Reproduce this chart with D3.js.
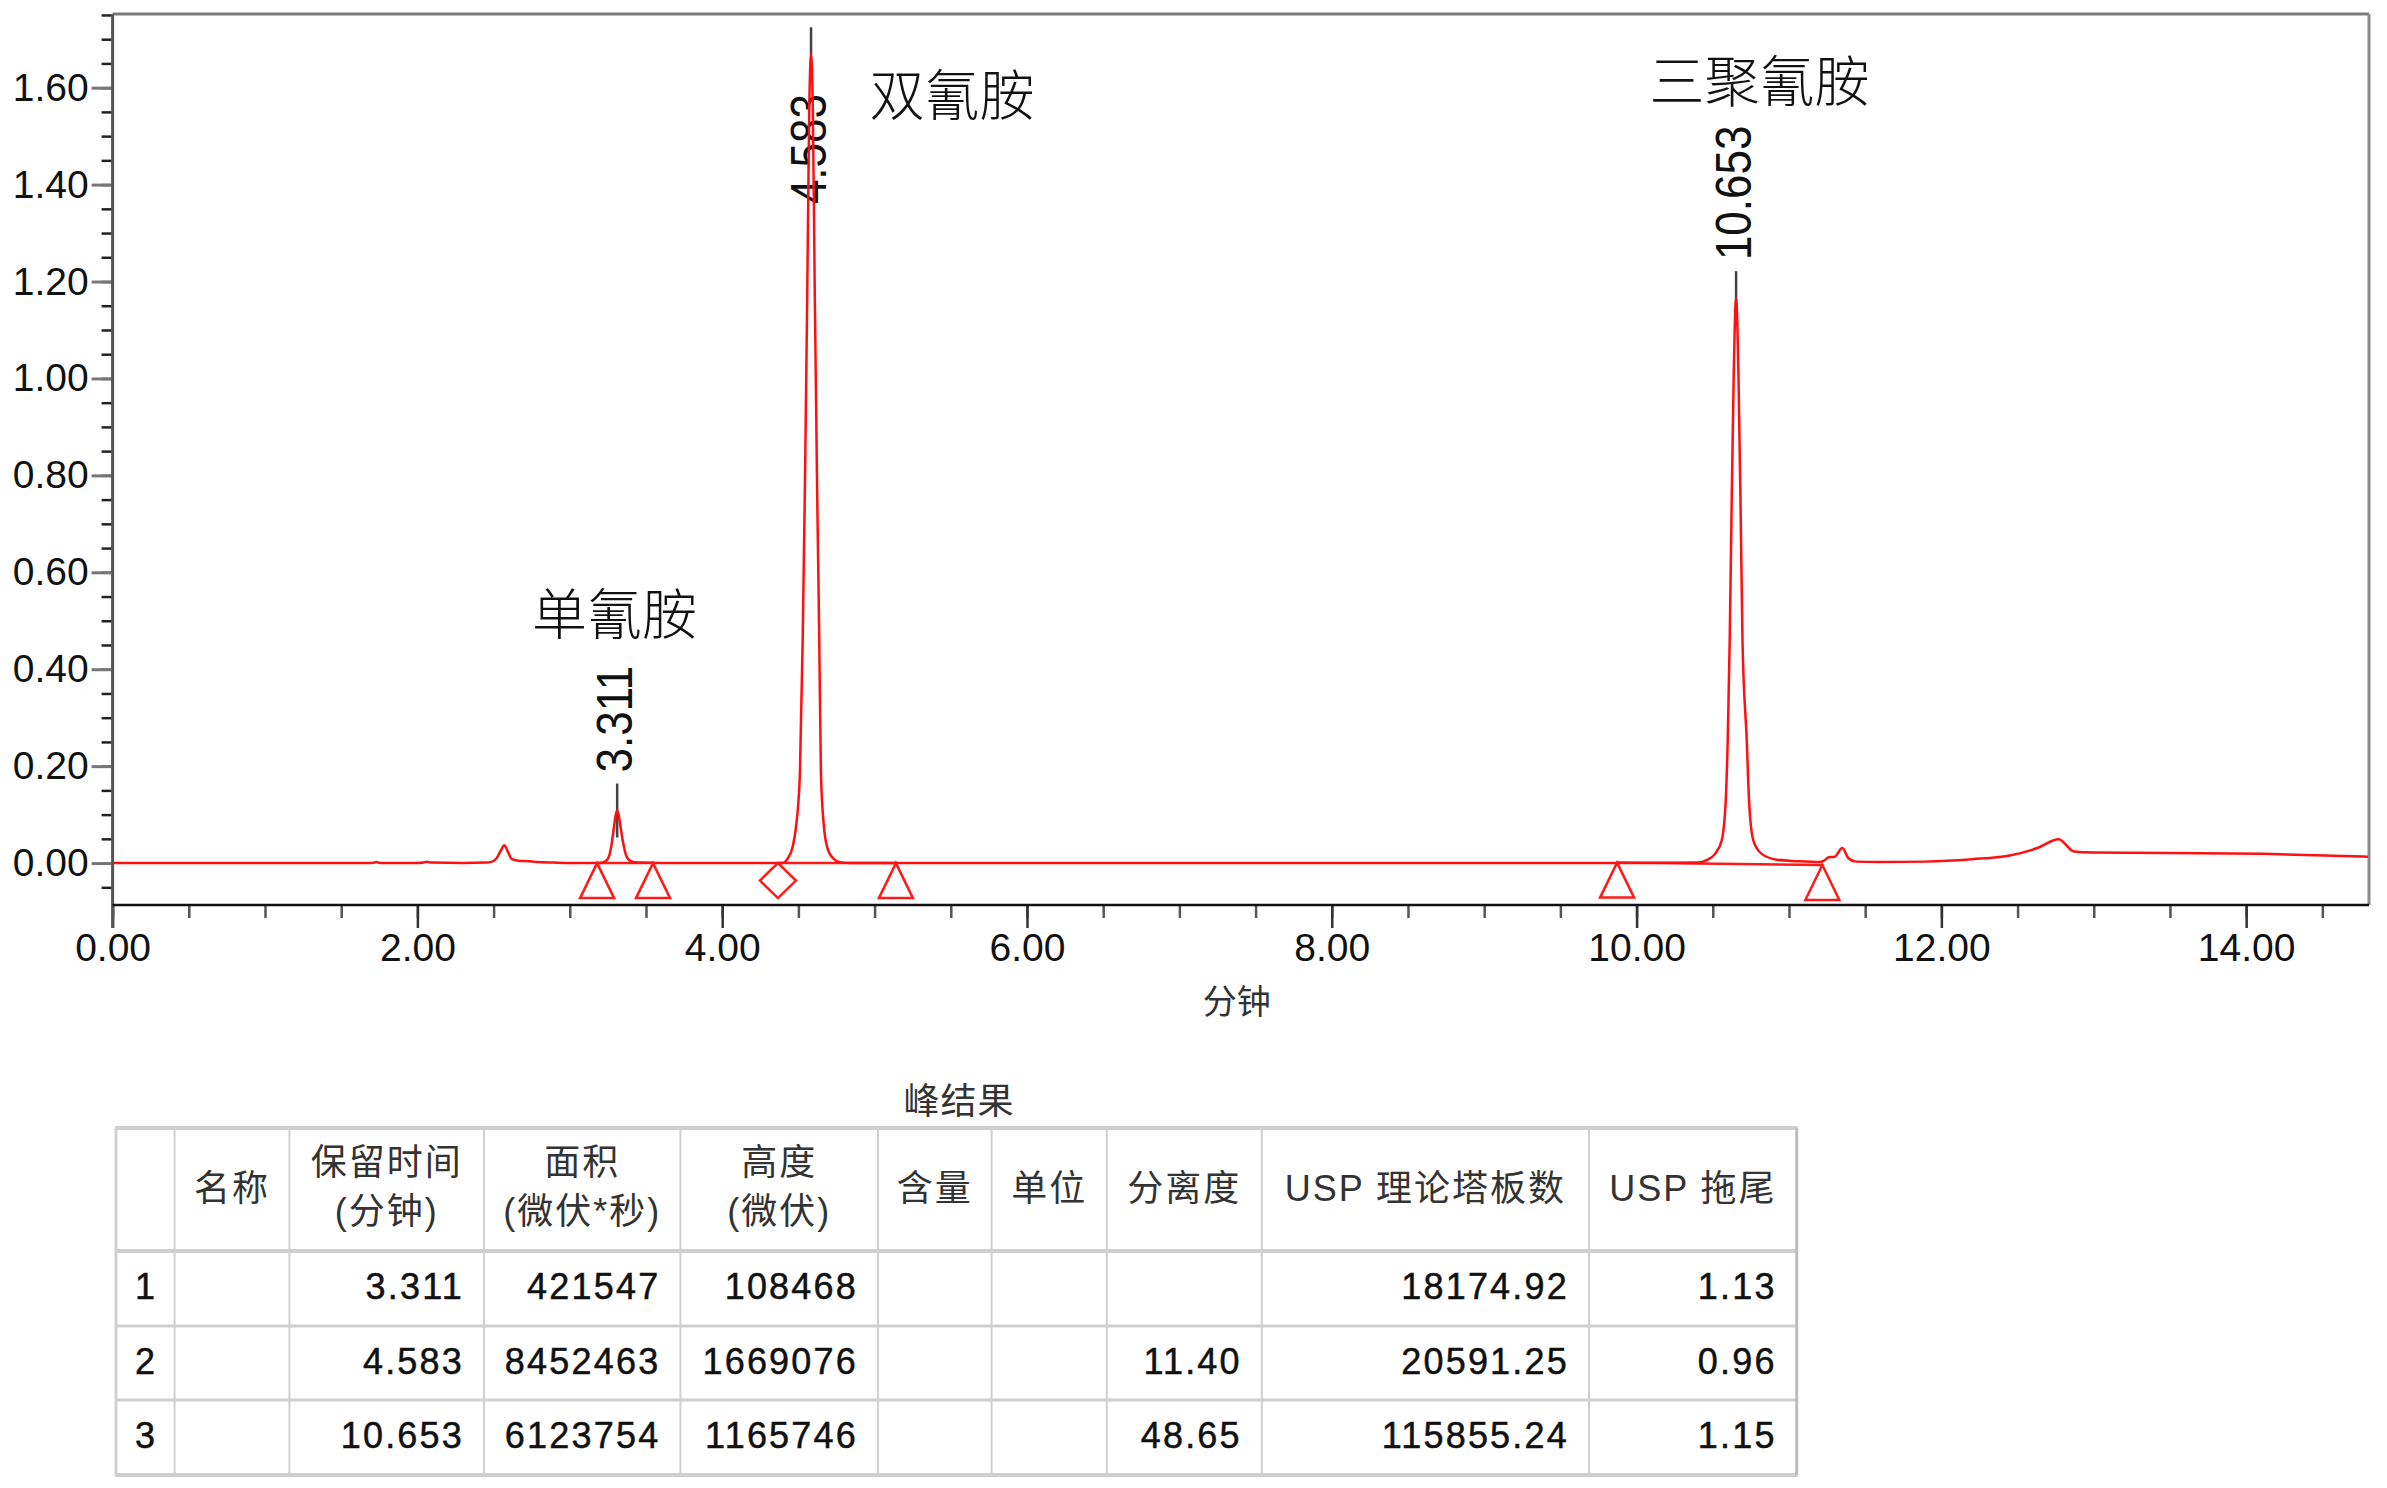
<!DOCTYPE html>
<html><head><meta charset="utf-8">
<script src="https://cdn.jsdelivr.net/npm/d3@7"></script>
<style>html,body{margin:0;padding:0;background:#fff;} svg{display:block;}</style>
</head><body><svg id="c" width="2387" height="1488"></svg>
<script>
// ---------------- DATA ----------------
// chromatogram trace: [time (min), signal (AU)]
const trace = [
 [0.00,0.000],[0.50,0.000],[1.00,0.000],[1.50,0.000],[1.70,0.000],[1.73,0.002],[1.76,0.000],
 [2.00,0.000],[2.04,0.001],[2.06,0.003],[2.09,0.001],[2.30,0.000],[2.45,0.001],[2.48,0.002],
 [2.52,0.010],[2.549,0.027],[2.570,0.037],[2.597,0.021],[2.619,0.008],[2.662,0.005],[2.74,0.004],
 [2.783,0.002],[2.90,0.001],[3.10,0.000],[3.19,0.000],[3.23,0.003],[3.255,0.012],[3.275,0.040],
 [3.29,0.075],[3.302,0.100],[3.311,0.1085],[3.320,0.100],[3.333,0.075],[3.350,0.042],[3.372,0.014],
 [3.40,0.004],[3.45,0.001],[3.60,0.000],[4.00,0.000],[4.30,0.000],[4.40,0.000],[4.431,0.010],
 [4.462,0.033],[4.484,0.074],[4.510,0.185],[4.528,0.459],[4.543,0.78],[4.558,1.17],[4.571,1.55],
 [4.583,1.669],[4.595,1.55],[4.608,1.16],[4.623,0.77],[4.637,0.459],[4.648,0.185],[4.668,0.074],
 [4.689,0.033],[4.727,0.010],[4.773,0.002],[4.85,0.000],[5.20,0.000],[6.00,0.000],[8.00,0.000],
 [10.00,0.000],[10.40,0.001],[10.46,0.006],[10.515,0.019],[10.559,0.047],[10.585,0.129],
 [10.598,0.253],[10.611,0.459],[10.622,0.70],[10.637,1.00],[10.653,1.1657],[10.669,1.00],
 [10.684,0.70],[10.695,0.459],[10.723,0.253],[10.738,0.129],[10.766,0.047],[10.821,0.019],
 [10.919,0.007],[11.05,0.004],[11.20,0.002],[11.23,0.005],[11.26,0.012],[11.30,0.013],
 [11.35,0.031],[11.39,0.010],[11.44,0.003],[11.60,0.002],[11.89,0.003],[12.20,0.008],
 [12.44,0.015],[12.63,0.031],[12.77,0.049],[12.87,0.024],[13.00,0.022],[13.50,0.021],
 [14.11,0.019],[14.806,0.013]
];
const peakRT = [3.311, 4.583, 10.653];
const peakRTLabel = ["3.311", "4.583", "10.653"];
const peakHeightUV = [108468, 1669076, 1165746];
const peakNames = ["单氰胺", "双氰胺", "三聚氰胺"];
const nameAnchorT = [3.293, 5.508, 10.806];
const nameAnchorV = [0.522, 1.593, 1.622];
const markerT = [3.179, 3.546, 4.366, 5.140, 9.872, 11.219];
const markerV = [0.000, 0.000, 0.000, 0.000, 0.001, -0.004];
const markerType = ["tri", "tri", "dia", "tri", "tri", "tri"];
const baselinePairs = [[0, 1], [2, 3], [4, 5]];
const yMajorTicks = [0.00, 0.20, 0.40, 0.60, 0.80, 1.00, 1.20, 1.40, 1.60];
const xMajorTicks = [0, 2, 4, 6, 8, 10, 12, 14];
const xAxisTitle = "分钟";

const tableTitle = "峰结果";
const tableHeaders = [[""], ["名称"], ["保留时间", "(分钟)"], ["面积", "(微伏*秒)"], ["高度", "(微伏)"],
  ["含量"], ["单位"], ["分离度"], ["USP 理论塔板数"], ["USP 拖尾"]];
const colIndex = ["1", "2", "3"];
const colName = ["", "", ""];
const colRT = ["3.311", "4.583", "10.653"];
const colArea = ["421547", "8452463", "6123754"];
const colHeight = ["108468", "1669076", "1165746"];
const colAmount = ["", "", ""];
const colUnit = ["", "", ""];
const colResolution = ["", "11.40", "48.65"];
const colPlates = ["18174.92", "20591.25", "115855.24"];
const colTailing = ["1.13", "0.96", "1.15"];

// ---------------- LAYOUT ----------------
const svg = d3.select("#c");
const P = {left: 112.6, right: 2369, top: 14, bottom: 905};
const x = d3.scaleLinear().domain([0, 14.806]).range([P.left, P.right]);
const y = d3.scaleLinear().domain([-0.0865, 1.752]).range([P.bottom, P.top]);
const LATIN = "'Liberation Sans', Arial, Helvetica, sans-serif";
const CJK = "'Liberation Sans', 'Noto Sans CJK SC', sans-serif";

// frame: top and right borders
svg.append("line").attr("x1", P.left).attr("x2", P.right).attr("y1", P.top).attr("y2", P.top)
  .attr("stroke", "#7a7a7a").attr("stroke-width", 3);
svg.append("line").attr("x1", P.right).attr("x2", P.right).attr("y1", P.top).attr("y2", P.bottom)
  .attr("stroke", "#8a8a8a").attr("stroke-width", 3);

// Y axis minor ticks
const yMinor = d3.range(-1, 36).map(i => i * 0.05);
const gyMin = svg.append("g").attr("transform", `translate(${P.left},0)`)
  .call(d3.axisLeft(y).tickValues(yMinor).tickSize(11).tickFormat(""));
gyMin.select(".domain").remove();
gyMin.selectAll(".tick line").attr("stroke", "#222").attr("stroke-width", 2.5);
// Y axis major ticks + labels
const gy = svg.append("g").attr("transform", `translate(${P.left},0)`)
  .call(d3.axisLeft(y).tickValues(yMajorTicks).tickSize(21).tickPadding(3).tickFormat(d3.format(".2f")));
gy.select(".domain").remove();
gy.selectAll(".tick line").attr("stroke", "#777").attr("stroke-width", 3);
gy.selectAll(".tick text").attr("font-family", LATIN).attr("font-size", 39).attr("fill", "#111");

// X axis minor ticks
const xMinor = d3.range(0, 30).map(i => i * 0.5);
const gxMin = svg.append("g").attr("transform", `translate(0,${P.bottom})`)
  .call(d3.axisBottom(x).tickValues(xMinor).tickSize(13).tickFormat(""));
gxMin.select(".domain").remove();
gxMin.selectAll(".tick line").attr("stroke", "#555").attr("stroke-width", 2.5);
// X axis major ticks + labels
const gx = svg.append("g").attr("transform", `translate(0,${P.bottom})`)
  .call(d3.axisBottom(x).tickValues(xMajorTicks).tickSize(23).tickPadding(5).tickFormat(d3.format(".2f")));
gx.select(".domain").remove();
gx.selectAll(".tick line").attr("stroke", "#333").attr("stroke-width", 2.5);
gx.selectAll(".tick text").attr("font-family", LATIN).attr("font-size", 39).attr("fill", "#111");

// axis lines
svg.append("line").attr("x1", P.left).attr("x2", P.left).attr("y1", P.top).attr("y2", P.bottom + 23)
  .attr("stroke", "#555").attr("stroke-width", 3);
svg.append("line").attr("x1", P.left).attr("x2", P.right).attr("y1", P.bottom).attr("y2", P.bottom)
  .attr("stroke", "#111").attr("stroke-width", 2.5);

// axis title
svg.append("text").attr("x", (P.left + P.right) / 2 - 4).attr("y", 1002)
  .attr("text-anchor", "middle").attr("dominant-baseline", "central")
  .attr("font-family", CJK).attr("font-size", 34).attr("fill", "#333").text(xAxisTitle);

// clip
svg.append("clipPath").attr("id", "plotclip").append("rect")
  .attr("x", P.left + 1).attr("y", P.top + 1).attr("width", P.right - P.left - 2).attr("height", P.bottom - P.top - 2);
const plotG = svg.append("g").attr("clip-path", "url(#plotclip)");

// peak apex marker lines and RT labels
peakRT.forEach((rt, i) => {
  const px = x(rt), py = y(peakHeightUV[i] / 1e6);
  const lineTop = py - 27, lineBottom = py + 27;
  plotG.append("line").attr("x1", px).attr("x2", px).attr("y1", lineTop).attr("y2", lineBottom)
    .attr("stroke", "#444").attr("stroke-width", 2.5);
  const t = plotG.append("text").attr("font-family", LATIN).attr("font-size", 50).attr("fill", "#111")
    .attr("text-anchor", "start").text(peakRTLabel[i]);
  const len = t.node().getComputedTextLength() * 0.88;
  let start = lineTop - 11;
  if (start - len < P.top + 20) start = P.top + 80 + len;
  t.attr("transform", `translate(${px + 15},${start}) rotate(-90) scale(0.88,1)`);
});

// peak names
peakNames.forEach((n, i) => {
  svg.append("text").attr("x", x(nameAnchorT[i])).attr("y", y(nameAnchorV[i]))
    .attr("text-anchor", "middle").attr("dominant-baseline", "central")
    .attr("font-family", "'Noto Sans CJK SC', sans-serif").attr("font-weight", 300)
    .attr("font-size", 55).attr("fill", "#111")
    .text(n);
});

// integration baselines
baselinePairs.forEach(([a, b]) => {
  plotG.append("line").attr("x1", x(markerT[a])).attr("y1", y(markerV[a]))
    .attr("x2", x(markerT[b])).attr("y2", y(markerV[b]))
    .attr("stroke", "#ff1a1a").attr("stroke-width", 2.5);
});

// trace
const line = d3.line().x(d => x(d[0])).y(d => y(d[1])).curve(d3.curveMonotoneX);
plotG.append("path").datum(trace).attr("d", line).attr("fill", "none")
  .attr("stroke", "#ff1010").attr("stroke-width", 2.5).attr("stroke-linejoin", "round");

// markers
markerT.forEach((t, i) => {
  const mx = x(t), my = y(markerV[i]);
  let d;
  if (markerType[i] === "tri") d = `M${mx},${my} L${mx + 17},${my + 35} L${mx - 17},${my + 35} Z`;
  else d = `M${mx},${my} L${mx + 18},${my + 17.5} L${mx},${my + 35} L${mx - 18},${my + 17.5} Z`;
  plotG.append("path").attr("d", d).attr("fill", "none").attr("stroke", "#ff1a1a").attr("stroke-width", 2.5);
});

// ---------------- TABLE ----------------
const colX = [116, 174.6, 289.4, 484, 680.4, 878, 991.6, 1106.8, 1261.8, 1589, 1796.7];
const rowY = [1128, 1251, 1326, 1400, 1475];
const tg = svg.append("g");
tg.append("text").attr("x", 959).attr("y", 1101).attr("text-anchor", "middle").attr("dominant-baseline", "central")
  .attr("font-family", CJK).attr("font-size", 36).attr("fill", "#333").attr("letter-spacing", 1).text(tableTitle);
rowY.forEach((ry, i) => {
  tg.append("line").attr("x1", colX[0] - 1).attr("x2", colX[colX.length - 1] + 1).attr("y1", ry).attr("y2", ry)
    .attr("stroke", "#cfcfcf").attr("stroke-width", (i === 0 || i === 1 || i === 4) ? 4 : 3);
});
colX.forEach((cx, i) => {
  tg.append("line").attr("x1", cx).attr("x2", cx).attr("y1", rowY[0]).attr("y2", rowY[rowY.length - 1])
    .attr("stroke", i === colX.length - 1 ? "#bdbdbd" : "#d0d0d0").attr("stroke-width", i === 0 || i === colX.length - 1 ? 3 : 2);
});
tableHeaders.forEach((h, j) => {
  const cx = (colX[j] + colX[j + 1]) / 2;
  const lines = h;
  const ys = lines.length === 1 ? [1188] : [1162, 1211];
  lines.forEach((s, k) => {
    tg.append("text").attr("x", cx).attr("y", ys[k]).attr("text-anchor", "middle").attr("dominant-baseline", "central")
      .attr("font-family", CJK).attr("font-size", 36).attr("letter-spacing", 2).attr("fill", "#333").text(s);
  });
});
const cols = [colIndex, colName, colRT, colArea, colHeight, colAmount, colUnit, colResolution, colPlates, colTailing];
cols.forEach((col, j) => {
  col.forEach((v, r) => {
    if (!v) return;
    const cy = (rowY[r + 1] + rowY[r + 2]) / 2 - 2;
    const left = j === 0;
    tg.append("text").attr("x", left ? colX[j] + 19 : colX[j + 1] - 20).attr("y", cy)
      .attr("text-anchor", left ? "start" : "end").attr("dominant-baseline", "central")
      .attr("font-family", LATIN).attr("font-size", 36).attr("letter-spacing", 2.2)
      .attr("fill", "#111").attr("stroke", "#111").attr("stroke-width", 0.5).text(v);
  });
});
</script>
</body></html>
